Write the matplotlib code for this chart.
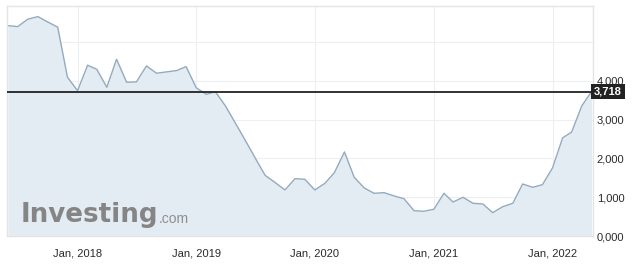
import matplotlib
matplotlib.use('Agg')
from matplotlib import pyplot as plt
import pandas as pd

# monthly closes, Jun 2017 .. May 2022
werte = [5420, 5394, 5585, 5652, 5515, 5379, 4090,
         3745, 4400, 4296, 3832, 4554, 3961, 3969, 4381, 4193, 4227, 4260, 4363,
         3820, 3650, 3715, 3350, 2915, 2464, 2015, 1564, 1376, 1186, 1477, 1461,
         1186, 1358, 1631, 2165, 1513, 1237, 1100, 1116, 1031, 961, 652, 637,
         688, 1100, 876, 997, 843, 825, 601, 755, 843, 1340, 1255, 1322,
         1753, 2526, 2680, 3351, 3718]
zeit = pd.date_range('2017-06-01', periods=len(werte), freq='MS')

letzter = 3718
jahr_ticks = ['2018-01-01', '2019-01-01', '2020-01-01', '2021-01-01', '2022-01-01']
jahr_labels = ['Jan, 2018', 'Jan, 2019', 'Jan, 2020', 'Jan, 2021', 'Jan, 2022']
y_ticks = [0, 1000, 2000, 3000, 4000, 5000]
y_labels = ['0,000', '1,000', '2,000', '3,000', '4,000', '']

fig = plt.figure(figsize=(6.38, 2.76), dpi=100)
ax = fig.add_axes([7 / 638, 40 / 276, 585.5 / 638, 230 / 276])

ax.fill_between(zeit, werte, 0, color='#e4ecf3', lw=0, zorder=1)
ax.plot(zeit, werte, color='#94aabf', lw=1, zorder=2)
ax.axhline(letzter, color='#222222', lw=1.3, zorder=3)

ax.set_xlim(pd.Timestamp('2017-05-29'), pd.Timestamp('2022-05-04'))
ax.set_ylim(0, 5925)

ax.set_xticks([pd.Timestamp(t) for t in jahr_ticks])
ax.set_xticklabels(jahr_labels)
ax.set_yticks(y_ticks)
ax.set_yticklabels(y_labels)
ax.yaxis.tick_right()
ax.tick_params(axis='both', length=0, labelsize=8, labelcolor='#2a2a2a')
ax.tick_params(axis='x', pad=9)
ax.tick_params(axis='y', pad=3)
for lab in ax.get_xticklabels() + ax.get_yticklabels():
    lab.set_fontfamily('Liberation Sans')

ax.grid(True, color='#edf0f3', lw=0.8, zorder=0)
ax.set_axisbelow(True)
for s in ax.spines.values():
    s.set_color('#e2e4e6')
    s.set_linewidth(1)

# last value marker on the right
ax.text(1.003, letzter, '3,718', transform=ax.get_yaxis_transform(),
        ha='left', va='center', fontsize=8, fontweight='bold', color='white',
        family='Liberation Sans',
        bbox=dict(boxstyle='square,pad=0.25', fc='#222222', ec='none'), zorder=5)

# watermark
logo = ax.text(0.024, 0.06, 'Investing', transform=ax.transAxes, fontsize=18.8,
               fontweight='bold', color='#858585', family='DejaVu Sans', zorder=4)
ax.annotate('.com', xy=(1.0, 0.2), xycoords=logo, ha='left', va='baseline',
            fontsize=10, color='#8f8f8f', family='Liberation Sans', zorder=4)

plt.savefig('out.png', dpi=100)
plt.close()
